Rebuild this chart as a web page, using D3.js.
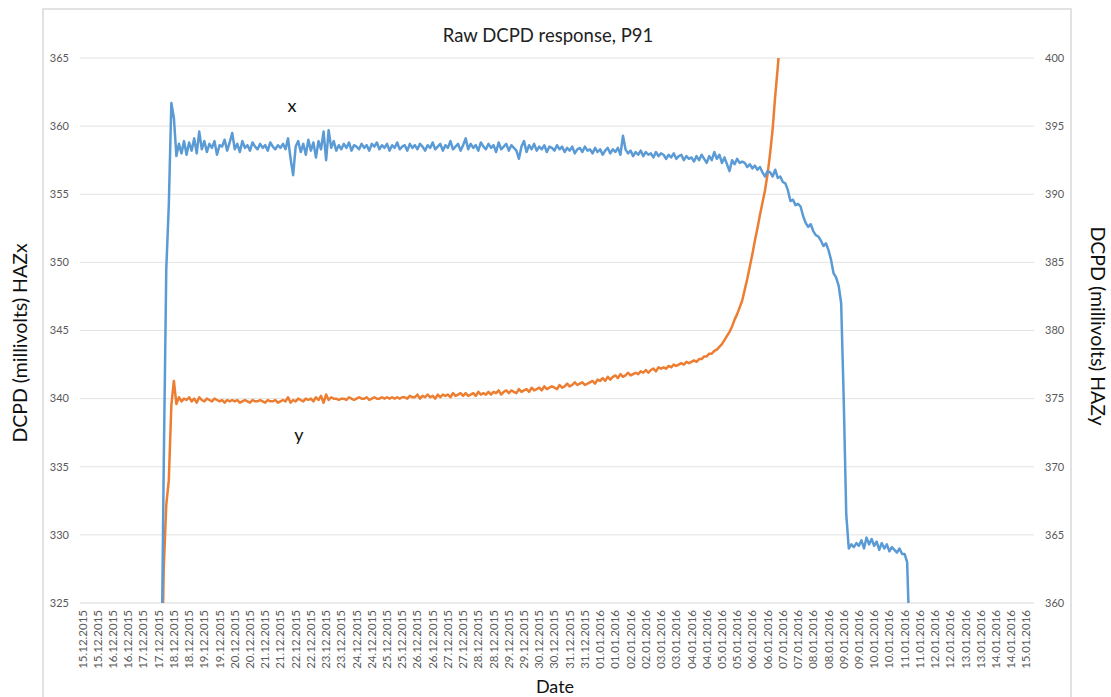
<!DOCTYPE html>
<html>
<head>
<meta charset="utf-8">
<script src="https://cdn.jsdelivr.net/npm/d3@7"></script>
<style>
  body { margin: 0; background: #fff; }
  text { font-family: Lato, "Liberation Sans", sans-serif; }
</style>
</head>
<body>
<div id="chart"></div>
<script>
// readings are every 2 hours from 17.12.2015 14:00
const sampleStart = new Date(2015, 11, 17, 14);
const sampleStepHours = 2;

// HAZx, millivolts (left axis)
const hazX = [
  318, 335, 349.5, 354.2, 361.7, 360.6, 357.8, 358.7, 358.0, 358.9,
  357.9, 358.8, 358.2, 359.1, 358.0, 359.6, 358.3, 358.9, 358.1, 358.7,
  358.4, 358.9, 357.9, 358.6, 358.5, 359.0, 358.2, 358.8, 359.5, 358.3,
  358.7, 358.1, 358.9, 358.4, 358.6, 358.2, 358.8, 358.5, 358.3, 358.7,
  358.4, 358.6, 358.2, 358.8, 358.5, 358.3, 358.6, 358.4, 358.7, 358.3,
  359.1, 357.6, 356.4, 358.5, 358.9, 358.1, 358.7, 357.9, 359.0, 358.2,
  358.8, 357.7, 358.9, 358.3, 359.6, 357.5, 359.7, 358.4, 358.9, 358.2,
  358.6, 358.3, 358.7, 358.4, 358.8, 358.2, 358.6, 358.5, 358.3, 358.7,
  358.4, 358.6, 358.2, 358.7, 358.5, 358.8, 358.3, 358.6, 358.4, 358.7,
  358.2, 358.6, 358.4, 358.8, 358.3, 358.5, 358.6, 358.2, 358.7, 358.4,
  358.6, 358.3, 358.7, 358.5, 358.2, 358.6, 358.4, 358.8, 358.3, 358.5,
  358.7, 358.2, 358.6, 358.4, 358.9, 358.3, 358.5, 358.7, 358.2, 358.6,
  359.1, 358.3, 358.7, 358.4, 358.6, 358.2, 358.8, 358.5, 358.3, 358.7,
  358.4, 358.6, 358.1, 358.8, 358.3, 358.5, 358.7, 358.2, 358.6, 358.4,
  358.2, 357.6, 358.5, 358.9, 358.1, 358.6, 358.3, 358.7, 358.2, 358.5,
  358.3, 358.6, 358.1, 358.5, 358.4, 358.2, 358.6, 358.3, 358.5, 358.1,
  358.4, 358.2, 358.5, 358.0, 358.3, 358.4, 358.1, 358.5, 358.2, 358.3,
  358.0, 358.4, 358.1, 358.3, 357.9, 358.2, 358.4, 358.0, 358.3, 358.1,
  358.4, 357.9, 359.3, 358.3, 358.0, 358.2, 357.8, 358.1, 357.9, 358.2,
  357.8, 358.1, 357.9, 358.0, 357.7, 358.1, 357.8, 358.0, 357.9, 357.6,
  357.9, 357.7, 358.0, 357.6, 357.8, 357.9, 357.5, 357.8, 357.6, 357.7,
  357.4, 357.8, 357.5, 357.9, 357.6, 357.3, 357.8, 357.5, 358.1, 357.6,
  357.9, 357.3, 357.7, 357.2, 356.7, 357.5, 357.2, 357.6, 357.3, 357.4,
  357.3, 357.0, 357.2, 356.9, 357.1, 356.8, 357.0, 356.6, 356.3, 356.7,
  356.6, 356.3, 356.8, 356.2, 356.3, 355.9, 355.8, 355.3, 354.5, 354.6,
  354.2, 354.3, 354.1, 353.4, 352.9, 352.6, 352.8, 352.3, 352.0, 351.9,
  351.6, 351.2, 351.4, 350.9, 350.2, 349.2, 348.9, 348.3, 347.0, 340.0,
  331.5, 329.0, 329.3, 329.1, 329.4, 329.2, 329.6, 329.0, 329.8, 329.3,
  329.7, 329.2, 329.5, 328.9, 329.4, 329.0, 329.3, 328.8, 329.1, 328.9,
  328.7, 329.0, 328.6, 328.6, 328.0, 322
];

// HAZy, millivolts (right axis)
const hazY = [
  352, 362.5, 367.2, 369.0, 374.5, 376.3, 374.6, 375.1, 374.8, 375.0,
  374.9, 375.1, 374.8, 375.0, 374.7, 375.1, 374.9, 374.8, 375.0, 374.9,
  374.8, 375.0, 374.9, 374.8, 374.9, 374.7, 374.9, 374.8, 374.9, 374.8,
  374.9, 374.7, 374.8, 374.9, 374.8, 374.7, 374.9, 374.8, 374.8, 374.9,
  374.8, 374.7, 374.9, 374.8, 374.8, 374.9, 374.7, 374.8, 374.9, 374.8,
  375.1, 374.7, 374.9, 374.8, 375.0, 374.9, 374.8, 375.0, 374.9, 375.0,
  374.8, 375.1, 374.9, 375.2, 374.7, 375.3, 374.9, 375.1, 375.0, 375.0,
  374.9, 375.0, 375.0, 374.9, 375.1, 375.0, 374.9, 375.0, 375.1, 375.0,
  375.0, 375.1, 374.9, 375.0, 375.1, 375.0, 375.0, 375.1, 375.0, 375.1,
  375.0, 375.1, 375.0, 375.1, 375.0, 375.1, 375.1, 375.0, 375.2, 375.1,
  375.1, 375.3, 375.0, 375.2, 375.1, 375.3, 375.1, 375.2, 375.0, 375.3,
  375.1, 375.3, 375.2, 375.3, 375.1, 375.4, 375.2, 375.3, 375.4, 375.2,
  375.4, 375.2, 375.3, 375.4, 375.2, 375.5, 375.3, 375.4, 375.3, 375.5,
  375.3, 375.5, 375.4, 375.6, 375.3, 375.5, 375.6, 375.4, 375.6, 375.5,
  375.4, 375.7, 375.5, 375.6, 375.7, 375.5, 375.8, 375.6, 375.7, 375.8,
  375.6, 375.9, 375.7, 375.8, 375.9, 375.8, 375.7, 376.0, 375.8, 375.9,
  376.1, 375.9, 376.0, 376.2, 376.0, 376.1, 376.2, 376.0, 376.1, 376.2,
  376.3, 376.1, 376.4, 376.3, 376.5, 376.3, 376.6, 376.4, 376.6, 376.7,
  376.5, 376.8, 376.6, 376.7, 376.9, 376.7, 376.8, 376.9, 376.8, 377.0,
  376.9, 377.1, 376.9, 377.1, 377.2, 377.0, 377.3, 377.2, 377.3, 377.2,
  377.4, 377.3, 377.5, 377.4, 377.5, 377.6, 377.5, 377.7, 377.6, 377.7,
  377.8, 377.7, 377.9, 377.9, 378.1, 378.1, 378.3, 378.3, 378.5, 378.6,
  378.8, 379.0, 379.3, 379.6, 379.9, 380.3, 380.8, 381.2, 381.7, 382.2,
  383.0, 383.8, 384.7, 385.6, 386.6, 387.5, 388.5, 389.4, 390.3, 391.5,
  393.0, 394.8, 397.2, 399.3, 401.6, 404.5
];

const leftTicks = [325, 330, 335, 340, 345, 350, 355, 360, 365];
const rightTicks = [360, 365, 370, 375, 380, 385, 390, 395, 400];
const firstDateTick = new Date(2015, 11, 15);
const lastDateTick = new Date(2016, 0, 15);

const width = 1111, height = 697;
const plot = { left: 80, right: 1034, top: 58, bottom: 603 };

const svg = d3.select("#chart").append("svg")
    .attr("width", width)
    .attr("height", height);

svg.append("rect")
    .attr("width", width).attr("height", height)
    .attr("fill", "#fff");

// outer chart frame
svg.append("rect")
    .attr("x", 43).attr("y", 9)
    .attr("width", 1028).attr("height", 700)
    .attr("fill", "none")
    .attr("stroke", "#d9d9d9")
    .attr("stroke-width", 1.5);

const x = d3.scaleTime()
    .domain([new Date(2015, 11, 14, 22), new Date(2016, 0, 15, 6)])
    .range([plot.left, plot.right]);

const yLeft = d3.scaleLinear().domain([325, 365]).range([plot.bottom, plot.top]);
const yRight = d3.scaleLinear().domain([360, 400]).range([plot.bottom, plot.top]);

// gridlines
svg.append("g")
    .selectAll("line")
    .data(leftTicks)
    .enter()
    .append("line")
    .attr("x1", plot.left).attr("x2", plot.right)
    .attr("y1", d => yLeft(d)).attr("y2", d => yLeft(d))
    .attr("stroke", d => d === 325 ? "#d9d9d9" : "#e3e3e3")
    .attr("stroke-width", 1);

// left tick labels
svg.append("g")
    .selectAll("text")
    .data(leftTicks)
    .enter()
    .append("text")
    .attr("x", 69)
    .attr("y", d => yLeft(d))
    .attr("dy", "0.35em")
    .attr("text-anchor", "end")
    .attr("font-size", "11px")
    .attr("fill", "#595959")
    .text(d => d);

// right tick labels
svg.append("g")
    .selectAll("text")
    .data(rightTicks)
    .enter()
    .append("text")
    .attr("x", 1045)
    .attr("y", d => yRight(d))
    .attr("dy", "0.35em")
    .attr("text-anchor", "start")
    .attr("font-size", "11px")
    .attr("fill", "#595959")
    .text(d => d);

// date labels, every 12 hours
const dateTicks = d3.timeHour.every(12).range(firstDateTick, d3.timeHour.offset(lastDateTick, 1));
const fmt = d3.timeFormat("%d.%m.%Y");
svg.append("g")
    .selectAll("text")
    .data(dateTicks)
    .enter()
    .append("text")
    .attr("transform", d => `translate(${x(d)},610) rotate(-90)`)
    .attr("dy", "0.35em")
    .attr("text-anchor", "end")
    .attr("font-size", "11.5px")
    .attr("fill", "#595959")
    .text(d => fmt(d));

// clip series to plot area
svg.append("clipPath")
    .attr("id", "plot-clip")
    .append("rect")
    .attr("x", plot.left).attr("y", plot.top)
    .attr("width", plot.right - plot.left)
    .attr("height", plot.bottom - plot.top);

const timeAt = i => d3.timeHour.offset(sampleStart, i * sampleStepHours);

const lineLeft = d3.line()
    .x((d, i) => x(timeAt(i)))
    .y(d => yLeft(d));

const lineRight = d3.line()
    .x((d, i) => x(timeAt(i)))
    .y(d => yRight(d));

const series = svg.append("g").attr("clip-path", "url(#plot-clip)");

series.append("path")
    .datum(hazY)
    .attr("d", lineRight)
    .attr("fill", "none")
    .attr("stroke", "#ed7d31")
    .attr("stroke-width", 2.5)
    .attr("stroke-linejoin", "round");

series.append("path")
    .datum(hazX)
    .attr("d", lineLeft)
    .attr("fill", "none")
    .attr("stroke", "#5b9bd5")
    .attr("stroke-width", 2.5)
    .attr("stroke-linejoin", "round");

// title and axis titles
svg.append("text")
    .attr("x", 548).attr("y", 42)
    .attr("text-anchor", "middle")
    .attr("font-size", "18.5px")
    .attr("fill", "#222")
    .text("Raw DCPD response, P91");

svg.append("text")
    .attr("transform", "translate(27,343) rotate(-90)")
    .attr("text-anchor", "middle")
    .attr("font-size", "19.5px")
    .attr("fill", "#111")
    .text("DCPD (millivolts) HAZx");

svg.append("text")
    .attr("transform", "translate(1091,326) rotate(90)")
    .attr("text-anchor", "middle")
    .attr("font-size", "19.5px")
    .attr("fill", "#111")
    .text("DCPD (millivolts) HAZy");

svg.append("text")
    .attr("x", 555).attr("y", 693)
    .attr("text-anchor", "middle")
    .attr("font-size", "18px")
    .attr("fill", "#111")
    .text("Date");

// series markers
svg.append("text")
    .attr("x", 292).attr("y", 112)
    .attr("text-anchor", "middle")
    .attr("font-size", "18px")
    .attr("fill", "#111")
    .text("x");

svg.append("text")
    .attr("x", 299).attr("y", 441)
    .attr("text-anchor", "middle")
    .attr("font-size", "18px")
    .attr("fill", "#111")
    .text("y");
</script>
</body>
</html>
